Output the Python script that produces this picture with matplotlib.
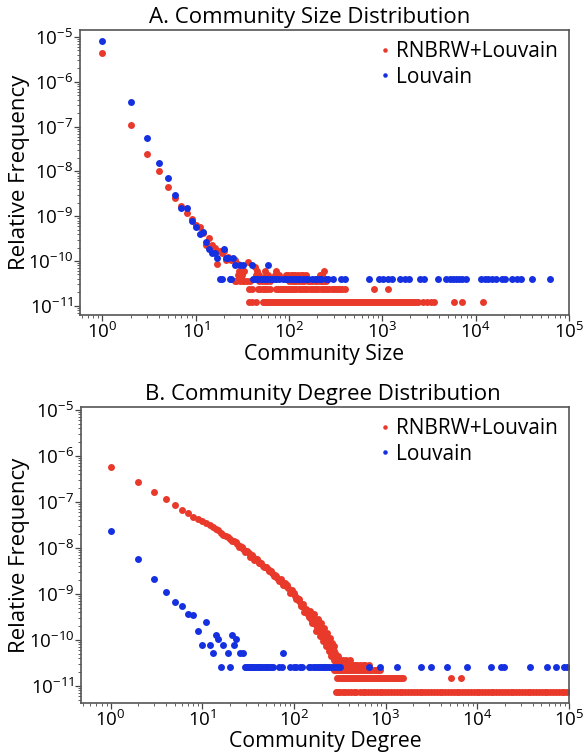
import numpy as np
import matplotlib
matplotlib.use("Agg")
import matplotlib.pyplot as plt
from matplotlib.ticker import FixedLocator, LogLocator, NullFormatter

plt.rcParams['font.family'] = ['Open Sans', 'DejaVu Sans']
plt.rcParams['mathtext.fontset'] = 'custom'
plt.rcParams['mathtext.rm'] = 'Open Sans'
plt.rcParams['mathtext.it'] = 'Open Sans:italic'
plt.rcParams['mathtext.bf'] = 'Open Sans:bold'

RED = '#e8392b'
BLUE = '#1530e0'

x_decades = [1e0, 1e1, 1e2, 1e3, 1e4, 1e5]
y_decades = [1e-11, 1e-10, 1e-9, 1e-8, 1e-7, 1e-6, 1e-5]

# ---------------- A. community size ----------------
# points above the count floors
size_red_x = [1, 2, 3, 4, 5, 6, 7, 8, 9, 10, 11, 12, 13, 14, 15, 16, 17, 18, 19, 20,
              21, 22, 24, 26, 28, 36, 43]
size_red_y = [4.3e-6, 1.1e-7, 2.5e-8, 1.0e-8, 4.6e-9, 2.6e-9, 1.7e-9, 1.2e-9, 8.5e-10, 6.5e-10,
              5.7e-10, 4.2e-10, 2.3e-10, 3.3e-10, 2.3e-10, 2.0e-10, 8.4e-11, 1.66e-10, 1.5e-10, 1.66e-10,
              1.07e-10, 1.2e-10, 1.07e-10, 1.07e-10, 8.4e-11, 9.6e-11, 7.2e-11]
# low-count rows (relative frequency of 1..5 communities)
size_red_levels = [1.2e-11, 2.4e-11, 3.6e-11, 4.8e-11, 6.0e-11]
size_red_row1 = [37, 40, 44, 52, 54, 57, 60, 63, 66, 69, 72, 76, 80, 84, 88, 92, 97, 102, 107,
                 112, 118, 124, 130, 137, 144, 151, 159, 167, 175, 184, 193, 203, 213, 224, 235,
                 247, 260, 273, 287, 301, 316, 332, 349, 367, 385, 405, 425, 447, 470, 493, 518,
                 545, 572, 601, 632, 664, 698, 733, 770, 810, 850, 894, 939, 987, 1037, 1090,
                 1145, 1203, 1264, 1328, 1396, 1467, 1540, 1620, 1700, 1790, 1880, 1975, 2075,
                 2180, 2290, 2405, 2700, 3000, 3300, 3600, 5900, 7200, 12000]
size_red_row2 = [37, 40, 46, 49, 52, 55, 58, 62, 73, 76, 80, 84, 88, 92, 97, 102, 108, 114, 120,
                 127, 134, 141, 149, 157, 166, 175, 185, 195, 206, 218, 230, 243, 256, 270, 285,
                 300, 317, 335, 353, 373, 395, 807, 1160]
size_red_row3 = [26, 27, 30, 32, 33, 35, 38, 48, 51, 55, 58, 62, 101, 107, 113, 120, 128, 136,
                 145, 160, 168, 178, 190, 200, 212, 225, 238, 250]
size_red_row4 = [28, 31, 44, 48, 56, 59, 70, 74, 78, 93, 98, 104, 110, 117, 125, 133, 142, 152,
                 212, 225]
size_red_row5 = [29, 33, 45, 55, 73, 235]

size_blue_x = [1, 2, 3, 4, 5, 6, 7, 8, 9, 10, 11, 12, 13, 14, 15, 16, 17, 20, 21, 22, 25,
               26, 30, 32, 40, 59]
size_blue_y = [8.0e-6, 3.5e-7, 5.7e-8, 1.55e-8, 7.1e-9, 2.9e-9, 1.5e-9, 1.5e-9, 7.8e-10, 5.7e-10,
               4.1e-10, 4.5e-10, 2.7e-10, 1.9e-10, 1.5e-10, 1.5e-10, 1.17e-10, 1.9e-10, 1.17e-10,
               1.17e-10, 1.17e-10, 8e-11, 8e-11, 8e-11, 8e-11, 8e-11]
size_blue_level = 4.0e-11
size_blue_row1 = [18, 19, 23, 24, 41, 43, 45, 47, 50, 52, 55, 58, 62, 66, 70, 73, 78, 85, 90, 96,
                  100, 106, 112, 118, 125, 130, 140, 150, 160, 175, 190, 200, 215, 221, 250, 260,
                  299, 362, 402, 713, 912, 1007, 1140, 1257, 1545, 1762, 1910, 2548, 2811, 3970,
                  4800, 5335, 5745, 6140, 6545, 7115, 7855, 11370, 12540, 13710, 15130, 16690,
                  19050, 20510, 24770, 27800, 30410, 40460, 62230]

# ---------------- B. community degree ----------------
deg_red_x = [1, 2, 3, 4, 5, 6, 7, 8, 9, 10, 11, 12, 13, 14, 15, 16, 17, 18, 19, 20, 22, 24, 26,
             28, 30, 32, 34, 36, 38, 40, 43, 46, 49, 52, 55, 58, 62, 66, 70, 74, 78, 82, 87, 92,
             97, 102, 108, 114, 120, 126, 132, 138, 145,
             21, 23, 25, 27, 29, 31, 33, 35, 37, 39, 41, 44, 47, 50, 53, 56, 60, 64, 68, 72,
             76, 80, 84, 90, 95, 100, 105, 112, 118, 124, 130, 135, 142]
deg_red_y = [5.85e-7, 2.7e-7, 1.65e-7, 1.16e-7, 8.5e-8, 6.8e-8, 5.7e-8, 4.65e-8, 4.2e-8, 3.8e-8,
             3.5e-8, 3.1e-8, 2.9e-8, 2.6e-8, 2.4e-8, 2.15e-8, 1.95e-8, 1.85e-8, 1.7e-8, 1.58e-8,
             1.4e-8, 1.2e-8, 1.08e-8, 9.6e-9, 8.6e-9, 7.6e-9, 6.8e-9, 6.3e-9, 5.7e-9, 5.2e-9,
             4.6e-9, 4.15e-9, 3.8e-9, 3.5e-9, 3.15e-9, 2.9e-9, 2.55e-9, 2.25e-9, 2.05e-9, 1.85e-9,
             1.62e-9, 1.5e-9, 1.32e-9, 1.15e-9, 1.05e-9, 9.2e-10, 8.0e-10, 7.0e-10, 6.1e-10,
             5.3e-10, 4.5e-10, 3.8e-10, 3.2e-10,
             1.45e-8, 1.35e-8, 1.05e-8, 1.05e-8, 8.2e-9, 8.6e-9, 6.5e-9, 6.9e-9, 5.5e-9, 5.8e-9,
             4.6e-9, 4.7e-9, 3.8e-9, 3.8e-9, 3.2e-9, 3.2e-9, 2.5e-9, 2.4e-9, 1.95e-9, 2.1e-9,
             1.6e-9, 1.75e-9, 1.6e-9, 1.05e-9, 1.2e-9, 1.05e-9, 7.6e-10, 7.8e-10, 5.5e-10,
             6.0e-10, 4.0e-10, 4.6e-10, 3.6e-10]
deg_red_blob_x = [148, 152, 156, 160, 164, 168, 172, 176, 180, 184, 188, 192, 196, 200, 204, 208,
                  212, 216, 220, 224, 228, 232, 236, 240, 244, 248, 252, 256, 260, 265, 270, 275,
                  280, 286, 292, 298, 305, 312, 320, 330, 340, 355, 370, 390, 410, 440,
                  150, 158, 166, 174, 182, 190, 198, 206, 214, 222, 230, 238, 246, 254, 262, 272]
deg_red_blob_y = [3.4e-10, 2.8e-10, 3.1e-10, 2.5e-10, 2.9e-10, 2.2e-10, 2.5e-10, 1.9e-10, 2.2e-10,
                  1.7e-10, 2.0e-10, 1.5e-10, 1.8e-10, 1.3e-10, 1.6e-10, 1.15e-10, 1.4e-10, 1.0e-10,
                  1.25e-10, 8.8e-11, 1.1e-10, 7.3e-11, 9.5e-11, 6.6e-11, 8.0e-11, 5.8e-11, 7.3e-11,
                  5.1e-11, 6.6e-11, 4.4e-11, 5.8e-11, 3.65e-11, 5.1e-11, 4.4e-11, 2.9e-11, 3.65e-11,
                  4.4e-11, 2.9e-11, 3.65e-11, 2.9e-11, 3.65e-11, 2.9e-11, 3.65e-11, 2.9e-11,
                  3.65e-11, 2.9e-11,
                  4.2e-10, 2.3e-10, 3.6e-10, 1.6e-10, 2.8e-10, 1.25e-10, 2.3e-10, 9.5e-11, 1.8e-10,
                  7.3e-11, 1.4e-10, 5.8e-11, 1.1e-10, 4.4e-11, 8.8e-11, 7.3e-11]
deg_red_levels = [7.3e-12, 1.46e-11, 2.2e-11, 2.9e-11]
deg_red_row1 = [285, 300, 320, 340, 360, 390, 420, 450, 480, 520, 560, 600, 640, 690, 740, 800,
                860, 920, 990, 1060, 1140, 1230, 1320, 1420, 1520, 1640, 1760, 1890, 2030, 2180,
                2340, 2520, 2700, 2900, 3120, 3350, 3600, 3870, 4150, 4460, 4790, 5150, 5530,
                5940, 6380, 6850, 7360, 7900, 8490, 9120, 9800, 10500, 11300, 12100, 13000,
                14000, 15000, 16100, 17300, 18600, 20000, 21500, 23100, 24800, 26600, 28600,
                30700, 33000, 35400, 38000, 40800, 43800, 47000, 50500, 54200, 58200, 62500,
                67100, 72000, 77300, 83000, 89100, 95700]
deg_red_row2 = [295, 310, 325, 340, 355, 372, 390, 408, 427, 447, 468, 490, 513, 537, 562, 588,
                616, 645, 675, 707, 740, 775, 811, 849, 889, 931, 975, 1020, 1068, 1118, 1170,
                1225, 1283, 1343, 1406, 1472, 1540, 5100, 6600]
deg_red_row3 = [270, 285, 300, 315, 330, 345, 360, 380, 400, 420, 440, 465, 490, 515, 540, 570,
                600, 630, 665, 700, 740, 780, 820, 870]
deg_red_row4 = [280, 300, 325, 350, 375, 400, 430, 460, 490, 520, 560, 600, 650]

deg_blue_x = [1, 2, 3, 4, 5, 6, 7, 8, 9, 10, 11, 12, 13, 14, 15, 17, 19, 21, 22, 23, 26, 28, 75]
deg_blue_y = [2.38e-8, 5.8e-9, 2.1e-9, 1.12e-9, 6.6e-10, 5.6e-10, 3.75e-10, 3.45e-10, 1.6e-10,
              7.8e-11, 2.4e-10, 7.8e-11, 5.2e-11, 1.3e-10, 1.04e-10, 7.8e-11, 5.2e-11, 1.3e-10,
              7.8e-11, 1.04e-10, 5.2e-11, 5.2e-11, 5.2e-11]
deg_blue_level = 2.6e-11
deg_blue_row1 = [16, 20, 29, 30, 31, 32, 33, 34, 35, 36, 37, 38, 40, 41, 43, 45, 47, 49, 51, 53,
                 56, 59, 69, 74, 90, 100, 104, 117, 122, 145, 150, 160, 170, 178, 185, 195, 202,
                 210, 220, 229, 240, 255, 270, 295, 320, 653, 877, 1337, 2400, 3090, 4700, 7760,
                 13960, 17950, 19500, 38000, 58200, 71800, 88300, 96100]


def with_rows(xs, ys, rows, levels):
    # stick the low-count rows onto the main series
    xs = list(xs)
    ys = list(ys)
    for r, lev in zip(rows, levels):
        xs += r
        ys += [lev] * len(r)
    return xs, ys


def setup(ax, title, title_x, xlabel, xlim, ylim, ylab_x, xlab_y):
    ax.set_xscale('log')
    ax.set_yscale('log')
    ax.set_xlim(*xlim)
    ax.set_ylim(*ylim)
    ax.set_title(title, fontsize=16, x=title_x, pad=5)
    ax.set_xlabel(xlabel, fontsize=15.3)
    ax.set_ylabel('Relative Frequency', fontsize=16)
    ax.xaxis.set_label_coords(0.5, xlab_y)
    ax.yaxis.set_label_coords(ylab_x, 0.5)
    ax.xaxis.set_major_locator(FixedLocator(x_decades))
    ax.yaxis.set_major_locator(FixedLocator(y_decades))
    ax.xaxis.set_minor_locator(LogLocator(base=10, subs=np.arange(2, 10), numticks=100))
    ax.yaxis.set_minor_locator(LogLocator(base=10, subs=np.arange(2, 10), numticks=100))
    ax.xaxis.set_minor_formatter(NullFormatter())
    ax.yaxis.set_minor_formatter(NullFormatter())
    ax.tick_params(which='major', length=4, width=0.9, labelsize=13.5, pad=1, color='#444444')
    ax.tick_params(which='minor', length=2.2, width=0.6, color='#444444')
    for s in ax.spines.values():
        s.set_color('#555555')
        s.set_linewidth(1.2)


fig = plt.figure(figsize=(5.87, 7.56), dpi=100)
ax1 = fig.add_axes([80 / 587, 1 - 315 / 756, 489 / 587, 285 / 756])
ax2 = fig.add_axes([81 / 587, 1 - 703 / 756, 488 / 587, 296 / 756])

rx, ry = with_rows(size_red_x, size_red_y,
                   [size_red_row1, size_red_row2, size_red_row3, size_red_row4, size_red_row5],
                   size_red_levels)
bx, by = with_rows(size_blue_x, size_blue_y, [size_blue_row1], [size_blue_level])
ax1.plot(rx, ry, 'o', color=RED, ms=5, mew=0, label='RNBRW+Louvain')
ax1.plot(bx, by, 'o', color=BLUE, ms=5, mew=0, label='Louvain')
setup(ax1, 'A. Community Size Distribution', 0.47, 'Community Size',
      (10 ** -0.241, 1e5), (10 ** -11.205, 10 ** -4.844), -0.102, -0.1)

rx, ry = with_rows(deg_red_x + deg_red_blob_x, deg_red_y + deg_red_blob_y,
                   [deg_red_row1, deg_red_row2, deg_red_row3, deg_red_row4], deg_red_levels)
bx, by = with_rows(deg_blue_x, deg_blue_y, [deg_blue_row1], [deg_blue_level])
ax2.plot(rx, ry, 'o', color=RED, ms=5, mew=0, label='RNBRW+Louvain')
ax2.plot(bx, by, 'o', color=BLUE, ms=5, mew=0, label='Louvain')
setup(ax2, 'B. Community Degree Distribution', 0.496, 'Community Degree',
      (10 ** -0.324, 1e5), (10 ** -11.37, 10 ** -4.935), -0.104, -0.095)
ax2.title.set_y(1.005)

for ax in (ax1, ax2):
    ax.legend(loc='upper right', frameon=False, fontsize=15, markerscale=0.65,
              handlelength=0.4, handletextpad=0.3, labelspacing=0.2,
              borderaxespad=0.15)

fig.savefig('out.png', dpi=100)
